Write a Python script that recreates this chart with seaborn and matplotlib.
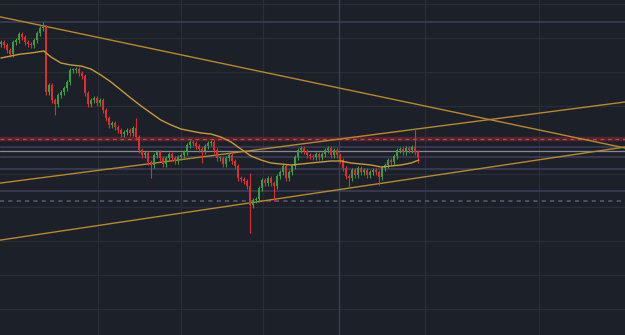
import numpy as np
import pandas as pd
import seaborn as sns
import matplotlib
matplotlib.use("Agg")
import matplotlib.pyplot as plt

# ---- data (arbitrary price units) ----
closes = [298, 295, 290, 286, 298, 300, 306, 303, 298, 296, 295, 300, 307, 312, 313,
          248, 255, 240, 236, 245, 248, 252, 258, 270, 270, 271, 267, 264, 247, 236,
          240, 242, 237, 240, 230, 222, 215, 217, 213, 210, 206, 208, 210, 207, 212,
          203, 190, 185, 187, 178, 175, 185, 188, 182, 176, 182, 186, 182, 179, 183,
          185, 188, 195, 198, 197, 194, 191, 189, 194, 197, 198, 190, 182, 182, 176,
          182, 185, 179, 174, 162, 161, 159, 154, 135, 140, 141, 152, 160, 157, 162,
          157, 154, 164, 168, 174, 162, 168, 174, 183, 190, 192, 189, 185, 184, 183,
          186, 183, 186, 190, 192, 185, 190, 185, 180, 172, 164, 162, 170, 165, 172,
          168, 170, 165, 168, 170, 168, 163, 172, 175, 180, 178, 184, 190, 191, 188,
          192, 190, 193, 188, 183]
first_open = 296
extra_high = {14: 316, 45: 220, 83: 165, 138: 210}
extra_low = {18: 228, 50: 165, 67: 180, 83: 110, 91: 142, 116: 155, 126: 158, 139: 180}

ma_idx = [0, 3.3, 6.7, 10, 14.3, 16.7, 20, 23.3, 26.7, 30, 33.3, 36.7, 40, 43.3,
          46.7, 50, 53.3, 56.7, 60, 63.3, 66.7, 70, 73.3, 76.7, 80, 83.3, 86.7, 90,
          93.3, 96.7, 100, 103.3, 106.7, 110, 113.3, 116.7, 120, 123.3, 126.7, 130,
          133.3, 136.7, 139.3]
ma_val = [282, 284, 286, 287, 289, 283, 277, 275, 274, 271, 265, 258, 250, 242,
          234, 227, 220, 215, 211, 209, 207, 206, 203, 198, 191, 184, 180, 177, 176,
          175, 176, 177, 178, 179, 179, 177, 176, 175, 173, 174, 175, 177, 180]

# trend lines: two anchor points each (time index, price)
trend_down = [(0, 323), (208, 192)]
trend_up_hi = [(0, 157), (208, 238)]
trend_up_lo = [(0, 100), (208, 193)]

hlines_lav = [318, 193, 183, 171, 149]
hline_gray = 189
hline_red = 201
hline_dash = 139

grid_y = [31.5, 65, 99, 133, 166.5, 200, 234, 268, 302, 336]
grid_x = [32.3, 60, 87.3, 141.3, 179.3]
cross_x = 112.7

# ---- style ----
bg = "#1b2029"
sns.set_theme(style="dark", rc={"axes.facecolor": bg, "figure.facecolor": bg})

fig = plt.figure(figsize=(6.25, 3.35), dpi=100)
ax = fig.add_axes([0, 0, 1, 1])
ax.set_facecolor(bg)

# grid
for gy in grid_y:
    ax.axhline(gy, color="#282d37", lw=0.9, zorder=0)
for gx in grid_x:
    ax.axvline(gx, color="#282d37", lw=0.9, zorder=0)
ax.axvline(cross_x, color="#394050", lw=1.0, zorder=0)

# horizontal level lines
for h in hlines_lav:
    ax.axhline(h, color="#3f3d5c", lw=1.1, zorder=1)
ax.axhline(hline_gray, color="#868a94", lw=0.9, zorder=1)
ax.axhline(hline_red, color="#55252f", lw=3.2, zorder=1)
ax.axhline(hline_red, color="#d0404c", lw=0.9, ls=(0, (3, 3)), zorder=1)
ax.axhline(hline_dash, color="#555870", lw=1.2, ls=(0, (2.5, 2.5)), zorder=1)

# candles
wick_pad = 2.5
t = np.arange(len(closes))
opens = [first_open] + closes[:-1]
green, red = "#3f9a45", "#d9302e"
for i, (o, c) in enumerate(zip(opens, closes)):
    col = green if c >= o else red
    hi = max(o, c, extra_high.get(i, max(o, c))) + wick_pad
    lo = min(o, c, extra_low.get(i, min(o, c))) - wick_pad
    ax.vlines(i, lo, hi, color=col, lw=0.8, zorder=3)
    ax.bar(i, max(abs(c - o), 0.6), bottom=min(o, c), width=0.55,
           color=col, edgecolor="none", zorder=3)

# moving average
ma_df = pd.DataFrame({"t": ma_idx, "ma": ma_val})
sns.lineplot(data=ma_df, x="t", y="ma", ax=ax, color="#c99a3a", lw=1.0, zorder=4)

# trend lines
for pts in (trend_down, trend_up_hi, trend_up_lo):
    ax.axline(pts[0], pts[1], color="#b8892e", lw=1.0, zorder=2)

ax.set_xlim(-0.3, 208)
ax.set_ylim(5, 340)
ax.set_xticks([])
ax.set_yticks([])
ax.set_xlabel("")
ax.set_ylabel("")
for s in ax.spines.values():
    s.set_visible(False)

fig.savefig("out.png", dpi=100, facecolor=bg)
